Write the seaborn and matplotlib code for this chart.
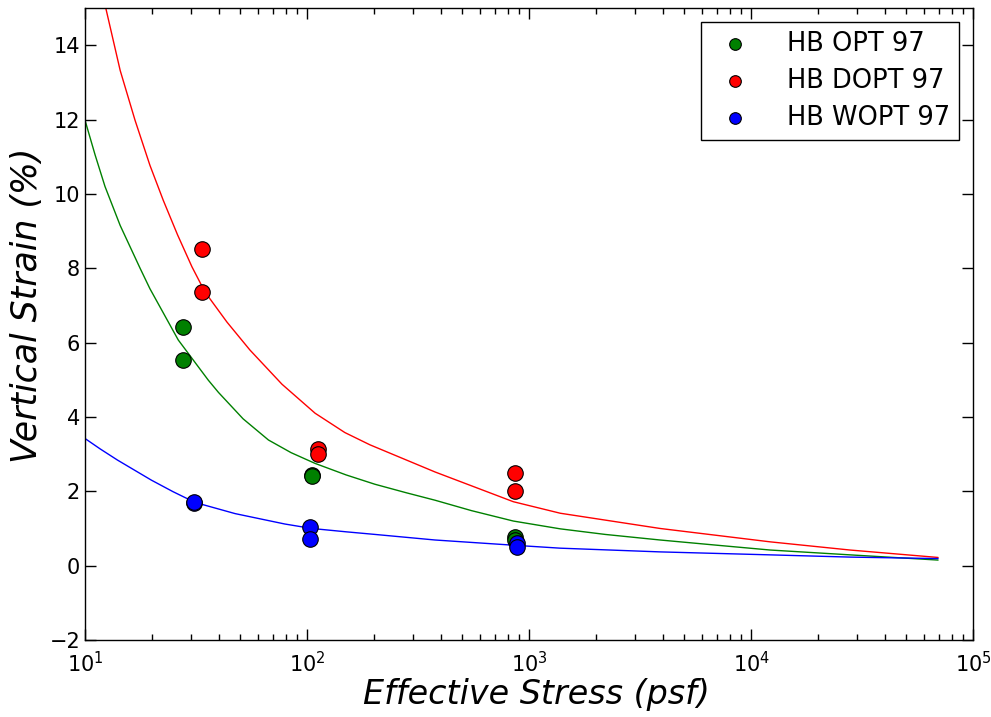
import matplotlib
matplotlib.use("Agg")
import matplotlib.pyplot as plt
import seaborn as sns

# ---- data ----
series_names = ["HB OPT 97", "HB DOPT 97", "HB WOPT 97"]
series_colors = ["#008000", "#ff0000", "#0000ff"]

# measured points
opt_x = [27.7, 27.7, 105, 105, 865, 865]
opt_y = [6.42, 5.53, 2.45, 2.40, 0.76, 0.70]
dopt_x = [33.7, 33.7, 111.7, 111.7, 865, 865]
dopt_y = [8.51, 7.36, 3.15, 2.99, 2.50, 2.01]
wopt_x = [31, 31, 103.3, 103.3, 880, 880]
wopt_y = [1.68, 1.70, 1.05, 0.73, 0.62, 0.50]

# fitted curves
opt_fit_x = [10, 11.1, 12.3, 14.4, 17.7, 19.6, 26.3, 35.9, 39.9, 51.5, 67.0, 84.7, 108.7,
             150, 202, 280, 377, 550, 849, 1381, 2200, 3890, 7000, 12190, 27900, 69500]
opt_fit_y = [11.98, 11.05, 10.2, 9.15, 8.0, 7.45, 6.07, 4.99, 4.66, 3.95, 3.38, 3.04, 2.75,
             2.44, 2.19, 1.96, 1.76, 1.48, 1.20, 0.99, 0.84, 0.69, 0.55, 0.42, 0.29, 0.15]
dopt_fit_x = [10, 12.4, 14.4, 16.8, 19.6, 22.5, 26.1, 30.3, 34.7, 43.6, 55.3, 77.1, 108.7,
              148, 192, 377, 849, 1381, 3890, 12190, 27900, 69500]
dopt_fit_y = [17.8, 15.0, 13.32, 11.98, 10.77, 9.83, 8.90, 8.04, 7.36, 6.55, 5.80, 4.88, 4.10,
              3.58, 3.25, 2.52, 1.72, 1.41, 1.00, 0.64, 0.42, 0.22]
wopt_fit_x = [10, 11.7, 14.0, 19.9, 24.9, 31.3, 47.4, 79.4, 105, 150, 202, 377, 849, 1381,
              3890, 12190, 27900, 69500]
wopt_fit_y = [3.42, 3.14, 2.84, 2.30, 1.99, 1.70, 1.40, 1.12, 1.00, 0.91, 0.84, 0.69, 0.55,
              0.47, 0.37, 0.29, 0.23, 0.19]

y_ticks = [-2, 0, 2, 4, 6, 8, 10, 12, 14]

# ---- plot ----
sns.set_style("ticks")
plt.rcParams["font.family"] = ["DejaVu Sans"]
plt.rcParams["text.color"] = "black"
plt.rcParams["axes.labelcolor"] = "black"

fig = plt.figure(figsize=(9.91, 7.17), dpi=100)
ax = fig.add_axes([0.0858, 0.1074, 0.8962, 0.8814])
ax.set_xscale("log")

fits = [(opt_fit_x, opt_fit_y), (dopt_fit_x, dopt_fit_y), (wopt_fit_x, wopt_fit_y)]
pts = [(opt_x, opt_y), (dopt_x, dopt_y), (wopt_x, wopt_y)]

for (fx, fy), c in zip(fits, series_colors):
    sns.lineplot(x=fx, y=fy, color=c, lw=1.0, sort=False, estimator=None, ax=ax,
                 legend=False, zorder=2)

for (px, py), c, name in zip(pts, series_colors, series_names):
    sns.scatterplot(x=px, y=py, color=c, s=125, edgecolor="black", linewidth=0.8,
                    ax=ax, label=name, zorder=3)

ax.set_xlim(10, 1e5)
ax.set_ylim(-2, 15)
ax.set_yticks(y_ticks)

ax.tick_params(which="both", direction="in", top=True, right=True, colors="black", labelsize=15)
ax.tick_params(which="major", length=8, width=1)
ax.tick_params(which="minor", length=4, width=1)
ax.tick_params(axis="x", pad=8)
for sp in ax.spines.values():
    sp.set_visible(True)
    sp.set_color("black")
    sp.set_linewidth(1.0)

ax.set_xlabel("Effective Stress (psf)", fontsize=24, style="italic", color="black")
ax.set_ylabel("Vertical Strain (%)", fontsize=25, style="italic", color="black")
ax.xaxis.set_label_coords(0.508, -0.060)
ax.yaxis.set_label_coords(-0.046, 0.53)

leg = ax.legend(loc="upper right", fontsize=18.5, frameon=True, fancybox=False,
                edgecolor="black", borderpad=0.35, handlelength=2.0, handletextpad=1.0,
                labelspacing=0.42, markerscale=0.75, borderaxespad=0.55)
leg.get_frame().set_linewidth(1.0)
leg.get_frame().set_alpha(1)
for t in leg.get_texts():
    t.set_color("black")

fig.savefig("out.png", dpi=100, facecolor="white")
